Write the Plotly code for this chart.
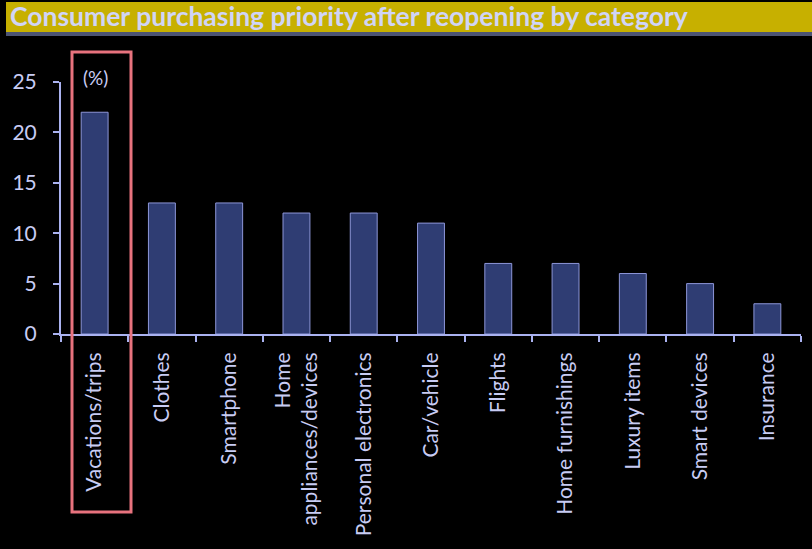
import plotly.graph_objects as go

categories = ["Vacations/trips", "Clothes", "Smartphone", "Home<br>appliances/devices",
              "Personal electronics", "Car/vehicle", "Flights", "Home furnishings",
              "Luxury items", "Smart devices", "Insurance"]
values = [22, 13, 13, 12, 12, 11, 7, 7, 6, 5, 3]
y_ticks = [0, 5, 10, 15, 20, 25]
title_text = "Consumer purchasing priority after reopening by category"
unit_text = "(%)"

axis_col = "#aab2f0"
txt_col = "#c8ccf4"

fig = go.Figure(go.Bar(
    x=categories, y=values,
    marker=dict(color="#2f3d73", line=dict(color="#8d96d8", width=1)),
    width=0.4,
))

fig.update_layout(
    width=812, height=549,
    paper_bgcolor="#000000", plot_bgcolor="#000000",
    margin=dict(l=61, r=11, t=82, b=215),
    showlegend=False,
    font=dict(family="Lato", color=txt_col, size=18),
    shapes=[
        # title band
        dict(type="rect", xref="paper", yref="paper",
             x0=-55/740, x1=(812-61)/740, y0=1 + 50/252, y1=1 + 80/252,
             fillcolor="#c7b000", line=dict(width=0), layer="below"),
        dict(type="rect", xref="paper", yref="paper",
             x0=-55/740, x1=(812-61)/740, y0=1 + 46/252, y1=1 + 50/252,
             fillcolor="#4c5474", line=dict(width=0), layer="below"),
        # highlight box
        dict(type="rect", xref="paper", yref="paper",
             x0=11/740, x1=70/740, y0=-178/252, y1=1 + 30/252,
             line=dict(color="#e8737e", width=3), fillcolor="rgba(0,0,0,0)"),
    ],
    annotations=[
        dict(text="<b>" + title_text + "</b>", xref="paper", yref="paper",
             x=-53/740, y=1 + 66/252, xanchor="left", yanchor="middle",
             showarrow=False, font=dict(family="Lato", size=26.5, color="#d0d4f6")),
        dict(text=unit_text, xref="paper", yref="paper",
             x=20/740, y=1 + 5/252, xanchor="left", yanchor="middle",
             showarrow=False, font=dict(family="Lato", size=19, color=txt_col)),
    ],
)

fig.update_xaxes(
    type="category", tickangle=-90, showgrid=False,
    showline=True, linecolor=axis_col, linewidth=2,
    ticks="outside", ticklen=6, tickcolor=axis_col, tickwidth=2,
    tickson="boundaries", ticklabelstandoff=8,
    tickfont=dict(family="Lato", size=21, color=txt_col),
    range=[-0.5, 10.5],
)
fig.update_yaxes(
    range=[0, 25], tickvals=y_ticks, showgrid=False, zeroline=False,
    showline=True, linecolor=axis_col, linewidth=2,
    ticks="outside", ticklen=6, tickcolor=axis_col, tickwidth=2,
    ticklabelstandoff=12,
    tickfont=dict(family="Lato", size=21, color=txt_col),
)

fig.write_html("out.html", config={"displayModeBar": False},
               post_script="document.body.style.margin='0';document.body.style.background='#000';")
